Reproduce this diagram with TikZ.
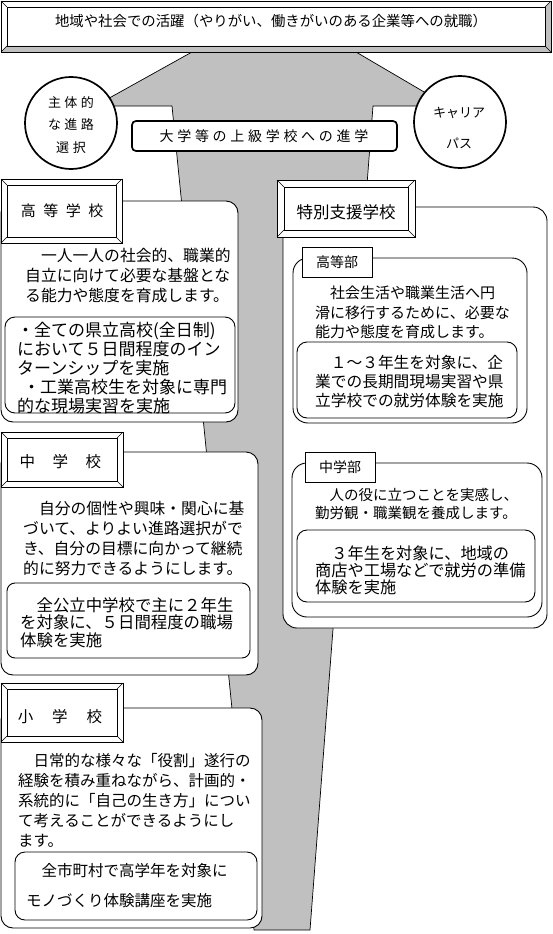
\documentclass[tikz,border=0pt]{standalone}
\usepackage{fontspec}
\setmainfont{Noto Sans CJK JP}
\definecolor{funnelgray}{RGB}{192,192,192}
\newcommand{\jpsize}[2]{\fontsize{#1}{#2}\selectfont}
% bevelled frame: [band colour]{x1}{y1}{x2}{y2}{inset}
\newcommand{\bevelframe}[6][white]{%
  \fill[white] (#2,#3) rectangle (#4,#5);%
  \fill[#1] (#2,#5) -- (#4,#5) -- (#4-#6,#5-#6) -- (#2+#6,#5-#6) -- cycle;%
  \fill[#1] (#4,#3) -- (#4,#5) -- (#4-#6,#5-#6) -- (#4-#6,#3+#6) -- cycle;%
  \draw[line width=0.9pt] (#2,#3) rectangle (#4,#5);%
  \draw[line width=0.9pt] (#2+#6,#3+#6) rectangle (#4-#6,#5-#6);%
  \draw[line width=0.6pt] (#2,#3) -- (#2+#6,#3+#6);%
  \draw[line width=0.6pt] (#4,#3) -- (#4-#6,#3+#6);%
  \draw[line width=0.6pt] (#2,#5) -- (#2+#6,#5-#6);%
  \draw[line width=0.6pt] (#4,#5) -- (#4-#6,#5-#6);%
}
\begin{document}
\begin{tikzpicture}[x=1pt,y=-1pt,
  boxline/.style={line width=0.9pt},
  thickline/.style={line width=1.7pt},
  bodypara/.style={anchor=base west,inner sep=0pt,text width=250pt,align=left},
  tagtext/.style={inner sep=0pt,align=center}]
            \useasboundingbox (0,0) rectangle (552,934);
            {
            % Drawing gray funnel
            \draw [line width=0.7pt,fill=funnelgray] (192,52) -- (356,52) -- (448,106) -- (373,106) -- (310,930) -- (254,930) -- (172,106) -- (95,106) -- cycle;%

            % Drawing top banner
            \bevelframe[funnelgray]{1}{1}{551}{52}{6}%
            \node [tagtext,font=\jpsize{14.4}{17}] (goal) at (271,21) {地域や社会での活躍（やりがい、働きがいのある企業等への就職）};%

            % Drawing circle of own choice
            \draw [thickline,fill=white] (71,123) circle (46pt);%
            \node [tagtext,font=\jpsize{13}{22.5}] (choice) at (71,125) {主\hspace{3.5pt}体\hspace{3.5pt}的\\な\hspace{3.5pt}進\hspace{3.5pt}路\\選\hspace{4pt}択};%

            % Drawing circle of career path
            \draw [thickline,fill=white] (460,122) circle (46pt);%
            \node [tagtext,font=\jpsize{13}{31}] (career) at (459,128.5) {キャリア\\パス};%

            % Drawing box of higher schools
            \draw [thickline,fill=white,rounded corners=4pt] (132,121) rectangle (397,151);%
            \node [tagtext,font=\jpsize{14}{17}] (college) at (264,136) {大\hspace{3.7pt}学\hspace{3.7pt}等\hspace{3.7pt}の\hspace{3.7pt}上\hspace{3.7pt}級\hspace{3.7pt}学\hspace{3.7pt}校\hspace{3.7pt}へ\hspace{3.7pt}の\hspace{3.7pt}進\hspace{3.7pt}学};%

            % Drawing high school
            \draw [boxline,fill=white,rounded corners=12pt] (1,201) rectangle (238,422);%
            \draw [boxline,rounded corners=10pt] (5,317) rectangle (235,413);%
            \bevelframe{1}{179}{122}{243}{6}%
            \node [tagtext,font=\jpsize{15}{18}] (highname) at (62,211) {高\hspace{7.5pt}等\hspace{7.5pt}学\hspace{7.5pt}校};%
            \node [bodypara,font=\jpsize{15.8}{20}] (hightext) at (25,261) {　一人一人の社会的、職業的\\自立に向けて必要な基盤とな\\る能力や態度を育成します。};%
            \node [bodypara,font=\jpsize{17}{19}] (highwork) at (17,336.5) {・全ての県立高校(全日制)\\において５日間程度のイン\\ターンシップを実施\\\hspace*{6pt}・工業高校生を対象に専門\\的な現場実習を実施};%

            % Drawing junior high school
            \draw [boxline,fill=white,rounded corners=12pt] (1,452) rectangle (258,675);%
            \draw [boxline,rounded corners=8pt] (7,583) rectangle (250,658);%
            \bevelframe{1}{432}{123}{487}{6}%
            \node [tagtext,font=\jpsize{15.5}{18}] (juniorname) at (60.5,462) {中\hspace{17.5pt}学\hspace{17.5pt}校};%
            \node [bodypara,font=\jpsize{15.8}{20}] (juniortext) at (23,514) {　自分の個性や興味・関心に基\\づいて、よりよい進路選択がで\\き、自分の目標に向かって継続\\的に努力できるようにします。};%
            \node [bodypara,font=\jpsize{16.4}{17.5}] (juniorwork) at (20,611) {　全公立中学校で主に２年生\\を対象に、５日間程度の職場\\体験を実施};%

            % Drawing elementary school
            \draw [boxline,fill=white,rounded corners=12pt] (1,708) rectangle (262,928);%
            \draw [boxline,rounded corners=10pt] (15,852) rectangle (257,920);%
            \bevelframe{1}{683}{123}{742}{6}%
            \node [tagtext,font=\jpsize{15.5}{18}] (primaryname) at (60,717) {小\hspace{19pt}学\hspace{19pt}校};%
            \node [bodypara,font=\jpsize{15.5}{20}] (primarytext) at (18,766) {　日常的な様々な「役割」遂行の\\経験を積み重ねながら、計画的・\\系統的に「自己の生き方」につい\\て考えることができるようにし\\ます。};%
            \node [bodypara,font=\jpsize{15.5}{30}] (primarywork) at (26,876) {　全市町村で高学年を対象に\\モノづくり体験講座を実施};%

            % Drawing special needs school
            \draw [boxline,fill=white,rounded corners=14pt] (283,207) rectangle (547,628);%

            % Drawing upper division
            \draw [boxline,fill=white,rounded corners=15pt] (293,258) rectangle (527,423);%
            \draw [boxline,rounded corners=10pt] (297,342) rectangle (517,418);%
            \draw [boxline,fill=white] (302,247) rectangle (372,277);%
            \node [tagtext,font=\jpsize{14}{17}] (uppername) at (337,262) {高等部};%
            \node [bodypara,font=\jpsize{15}{19.5}] (uppertext) at (315,298.7) {　社会生活や職業生活へ円\\滑に移行するために、必要な\\能力や態度を育成します。};%
            \node [bodypara,font=\jpsize{15.7}{19}] (upperwork) at (315,368) {　１～３年生を対象に、企\\業での長期間現場実習や県\\立学校での就労体験を実施};%

            % Drawing middle division
            \draw [boxline,fill=white,rounded corners=15pt] (292,463) rectangle (542,617);%
            \draw [boxline,rounded corners=10pt] (297,530) rectangle (535,602);%
            \draw [boxline,fill=white] (305,452) rectangle (375,482);%
            \node [tagtext,font=\jpsize{14}{17}] (middlename) at (340,467) {中学部};%
            \node [bodypara,font=\jpsize{14.5}{18}] (middletext) at (315,500.5) {　人の役に立つことを実感し、\\勤労観・職業観を養成します。};%
            \node [bodypara,font=\jpsize{16.2}{17}] (middlework) at (315,559) {　３年生を対象に、地域の\\商店や工場などで就労の準備\\体験を実施};%

            % Drawing label of special needs school
            \bevelframe{277}{180}{415}{237}{7}%
            \node [tagtext,font=\jpsize{16.5}{19}] (specialname) at (346,212) {特別支援学校};%
            }
        \end{tikzpicture}
\end{document}
